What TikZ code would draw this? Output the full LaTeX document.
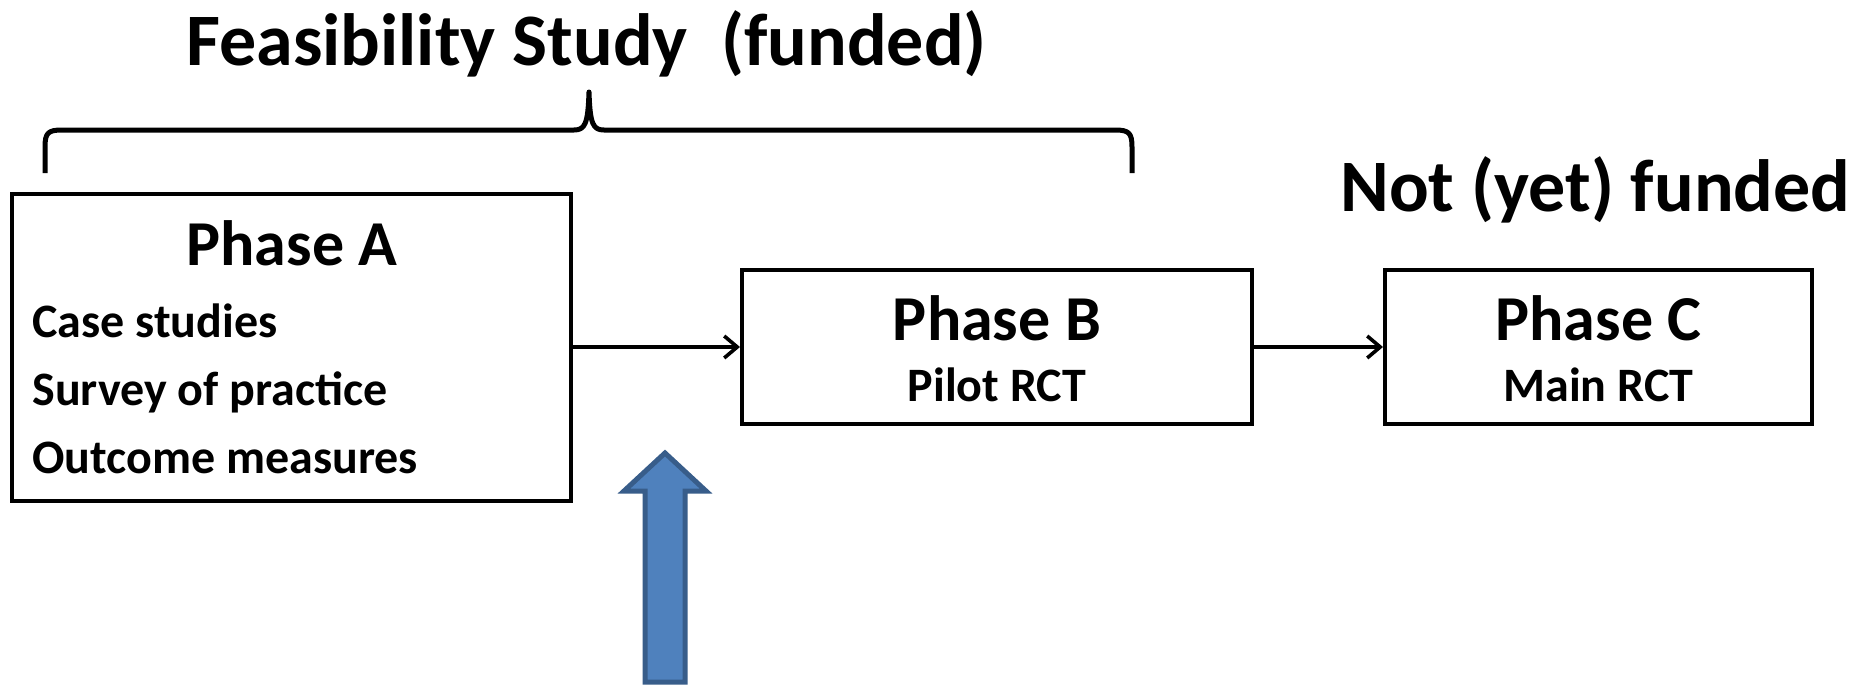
\documentclass[tikz,border=0pt]{standalone}
\usepackage{fontspec}
\setmainfont{Carlito}
\usetikzlibrary{arrows.meta}
\definecolor{arrowfill}{HTML}{4F81BD}
\definecolor{arrowline}{HTML}{385D8A}
\tikzset{
  phasebox/.style={draw=black, line width=2pt, rectangle, inner sep=0pt},
  conn/.style={draw=black, line width=1.8pt, -{Straight Barb[length=6.5pt,width=11pt,line width=1.8pt]}},
  bigtitle/.style={font=\fontsize{37pt}{44pt}\selectfont\bfseries, anchor=base, inner sep=0pt},
  phasetitle/.style={font=\fontsize{32pt}{38pt}\selectfont\bfseries, anchor=base, inner sep=0pt},
  subtext/.style={font=\fontsize{24pt}{29pt}\selectfont\bfseries, anchor=base, inner sep=0pt},
  bracestyle/.style={draw=black, line width=2.5pt, line cap=butt, line join=round},
  bluearrow/.style={fill=arrowfill, draw=arrowline, line width=2.5pt, line join=miter}
}
\begin{document}
\begin{tikzpicture}[x=0.5pt, y=-0.5pt]
\useasboundingbox (0,0) rectangle (1859,685);
\fill[white] (0,0) rectangle (1859,685);

% titles
\node[bigtitle, anchor=base west] (feas) at (186,65) {Feasibility Study\ \ (funded)};
\node[bigtitle, anchor=base west] (notf) at (1340,211) {Not (yet) funded};

% brace
\draw[bracestyle] (45,173) -- (45,147) .. controls (45,133) and (48,130) .. (62,130)
  -- (574,130) .. controls (585,130) and (588,124) .. (589,92)
  .. controls (590,124) and (593,130) .. (604,130)
  -- (1115,130) .. controls (1129,130) and (1132,133) .. (1132,147) -- (1132,173);

% boxes
\node[phasebox, minimum width=559*0.5pt, minimum height=307*0.5pt] (A) at (291.5,347) {};
\node[phasebox, minimum width=510*0.5pt, minimum height=154*0.5pt] (B) at (997,347) {};
\node[phasebox, minimum width=427*0.5pt, minimum height=154*0.5pt] (C) at (1598.5,347) {};

% texts in boxes
\node[phasetitle] (Atitle) at (292,265) {Phase A};
\node[subtext, anchor=base west] (A1) at (32,337) {Case studies};
\node[subtext, anchor=base west] (A2) at (32,405) {Survey of practice};
\node[subtext, anchor=base west] (A3) at (32,473) {Outcome measures};

\node[phasetitle] (Btitle) at (997,340) {Phase B};
\node[subtext] (Bsub) at (997,401) {Pilot RCT};

\node[phasetitle] (Ctitle) at (1598.5,340) {Phase C};
\node[subtext] (Csub) at (1598.5,401) {Main RCT};

% connectors
\draw[conn] (A.east) -- (B.west);
\draw[conn] (B.east) -- (C.west);

% blue arrow
\draw[bluearrow] (645,682) -- (645,491) -- (624,491) -- (665,453) -- (706,491) -- (685,491) -- (685,682) -- cycle;
\end{tikzpicture}
\end{document}
